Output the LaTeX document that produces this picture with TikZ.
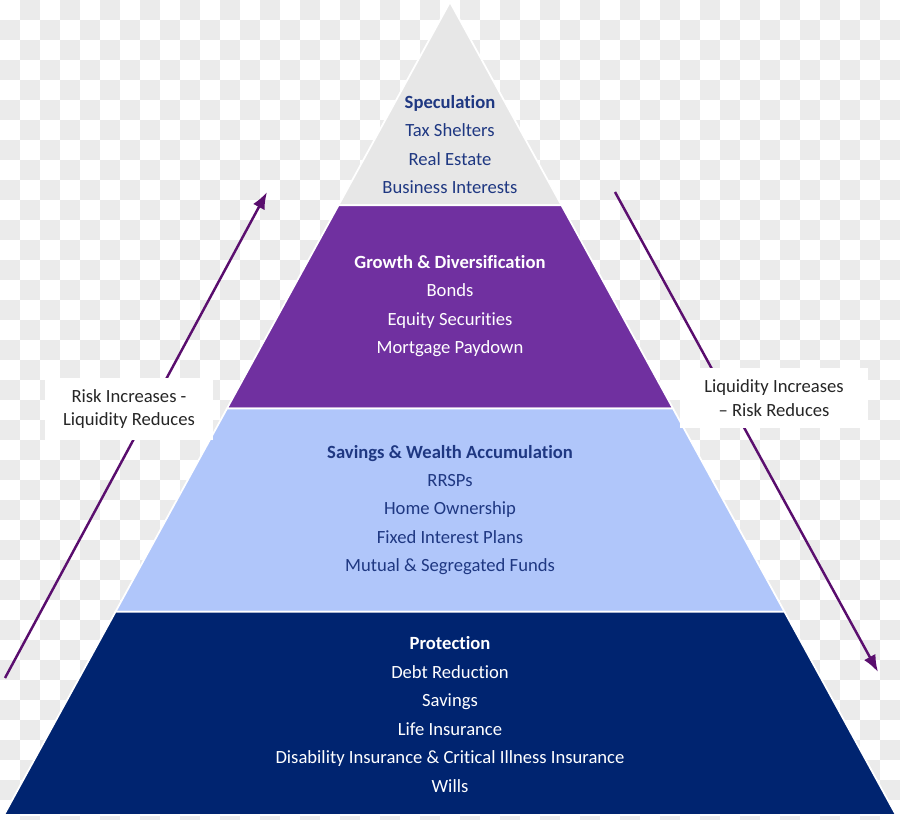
\documentclass[tikz,border=0pt]{standalone}
\usepackage{fontspec}
\setmainfont{Carlito}[Ligatures=NoCommon]
\usetikzlibrary{arrows.meta,positioning,calc}

\definecolor{checkgray}{RGB}{235,235,235}
\definecolor{topgray}{RGB}{231,231,231}
\definecolor{growpurple}{RGB}{112,48,160}
\definecolor{savblue}{RGB}{176,198,250}
\definecolor{protnavy}{RGB}{0,36,112}
\definecolor{darktxt}{RGB}{31,56,130}
\definecolor{arrowpurple}{RGB}{90,14,110}

\begin{document}
\begin{tikzpicture}[
    x=0.02cm, y=-0.02cm,
    band/.style={draw=white, line width=1pt},
    tiertext/.style={align=center, font=\fontsize{10.6}{16.2}\selectfont},
    darktier/.style={tiertext, text=darktxt},
    lighttier/.style={tiertext, text=white},
    sidelabel/.style={fill=white, align=center, text=black!85, font=\fontsize{10.6}{13.6}\selectfont},
    trend/.style={-{Latex[length=0.34cm, width=0.26cm]}, arrowpurple, line width=1.4pt}
  ]
    \useasboundingbox (0,0) rectangle (900,820);

    \foreach \i in {0,...,44}{
      \foreach \j in {0,...,40}{
        \pgfmathtruncatemacro\odd{mod(\i+\j,2)}
        \ifnum\odd=1 \fill[checkgray] (\i*20,\j*20) rectangle ++(20,20); \fi
      }
    }

    \coordinate (apex) at (450,2);
    \coordinate (bl) at (4,815);
    \coordinate (br) at (896,815);
    \coordinate (l1) at ($(apex)!0.25!(bl)$);
    \coordinate (r1) at ($(apex)!0.25!(br)$);
    \coordinate (l2) at ($(apex)!0.5!(bl)$);
    \coordinate (r2) at ($(apex)!0.5!(br)$);
    \coordinate (l3) at ($(apex)!0.75!(bl)$);
    \coordinate (r3) at ($(apex)!0.75!(br)$);

    \filldraw[band, fill=topgray] (apex) -- (r1) -- (l1) -- cycle;
    \filldraw[band, fill=growpurple] (l1) -- (r1) -- (r2) -- (l2) -- cycle;
    \filldraw[band, fill=savblue] (l2) -- (r2) -- (r3) -- (l3) -- cycle;
    \filldraw[band, fill=protnavy] (l3) -- (r3) -- (br) -- (bl) -- cycle;

    \node[darktier] (spec) at (450,144.5) {\textbf{Speculation}\\Tax Shelters\\Real Estate\\Business Interests};
    \node[lighttier] (growth) at (450,306) {\textbf{Growth \& Diversification}\\Bonds\\Equity Securities\\Mortgage Paydown};
    \node[darktier] (savings) at (450,510) {\textbf{Savings \& Wealth Accumulation}\\RRSPs\\Home Ownership\\Fixed Interest Plans\\Mutual \& Segregated Funds};
    \node[lighttier] (protect) at (450,714.5) {\textbf{Protection}\\Debt Reduction\\Savings\\Life Insurance\\Disability Insurance \& Critical Illness Insurance\\Wills};

    \coordinate (riskstart) at (5,678);
    \coordinate (riskend) at (267,192);
    \coordinate (liqstart) at (615,192);
    \coordinate (liqend) at (878,672);

    \draw[trend] (riskstart) -- (riskend);
    \draw[trend] (liqstart) -- (liqend);

    \node[sidelabel, minimum width=3.35cm, minimum height=1.24cm] (risk) at (129,409) {Risk Increases -\\Liquidity Reduces};
    \node[sidelabel, minimum width=3.75cm, minimum height=1.2cm] (liquid) at (774,398) {Liquidity Increases\\– Risk Reduces};
  \end{tikzpicture}
\end{document}
